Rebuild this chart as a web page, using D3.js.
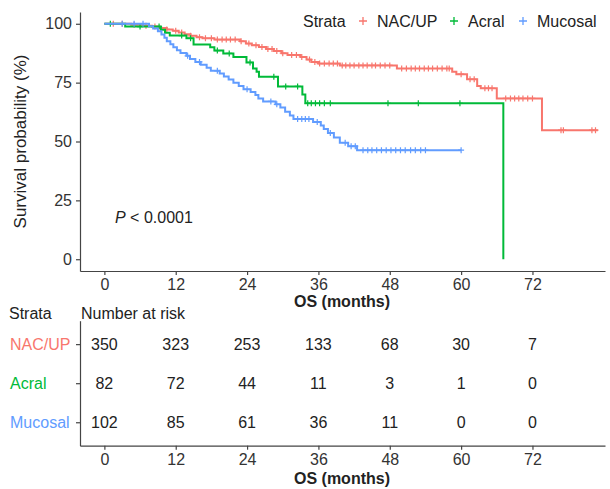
<!DOCTYPE html>
<html>
<head>
<meta charset="utf-8">
<script src="https://cdn.jsdelivr.net/npm/d3@7"></script>
<style>
  body { margin: 0; background: #fff; }
  svg { font-family: 'Liberation Sans', Arial, sans-serif; }
</style>
</head>
<body>
<div id="km"></div>
<script>
// Strata and colours
const strata = ['NAC/UP', 'Acral', 'Mucosal'];
const strataColors = ['#F8766D', '#00BA38', '#619CFF'];

// Kaplan-Meier steps: [month, survival %]
const nacSteps = [[0, 100], [4.5, 99.6], [6.5, 99.2], [8, 98.8], [9.3, 98.2], [10.5, 97.6], [11.5, 97.0],
    [12.5, 96.3], [13.5, 95.6], [14.5, 94.9], [15.5, 94.3], [16.5, 93.8], [18.5, 93.3], [22.8, 92.6],
    [23.8, 91.6], [24.8, 90.9], [26, 90.1], [27.2, 89.3], [28.5, 88.4], [29.8, 87.5], [30.8, 86.7],
    [33, 85.9], [34, 84.8], [34.8, 83.8], [36, 83.1], [39.6, 82.3], [49.2, 81.0], [58.5, 79.6],
    [59.2, 78.6], [61, 76.4], [62.7, 73.6], [63.3, 72.6], [66, 68.3], [73.6, 54.8]];
const nacEnd = 83;
const nacCensor = [1.5, 3, 5, 7, 8.5, 10.5, 12, 13, 14.5, 16, 17, 18, 19, 19.8, 20.5, 21.2, 22, 23, 24.3,
    25.5, 26.5, 27.5, 28.2, 29, 30, 31.5, 32.3, 33.2, 34.5, 35.4, 36.2, 37, 37.8, 38.5, 39.2, 40, 40.6,
    41.3, 42, 42.8, 43.5, 44.2, 45, 45.6, 46.4, 47.2, 48, 50, 50.8, 51.6, 52.3, 53, 53.8, 54.5, 55.2,
    56, 56.8, 57.6, 58, 60, 61.5, 62.2, 64, 64.6, 65.2, 67.5, 68.3, 69, 69.7, 70.4, 71.2, 72, 76.8,
    77.2, 82, 82.6];

const acralSteps = [[0, 100], [3.5, 98.8], [9.5, 97.5], [10.2, 96.2], [11, 95.0], [13.8, 93.8], [15, 91.2],
    [17.8, 90.0], [18.5, 88.6], [20, 87.4], [21.7, 85.9], [23.9, 83.6], [25, 81.0], [25.6, 79.6],
    [26, 77.5], [29.2, 73.4], [33.3, 70.0], [33.8, 66.2], [67.1, 0]];
const acralEnd = 67.1;
const acralCensor = [1, 6, 9.2, 13, 14.5, 19, 21, 24.5, 28.5, 30.5, 32.5, 34.2, 34.8, 35.5, 36.2, 37,
    38, 47.7, 52.8, 59.8];

const mucosalSteps = [[0, 100], [7.5, 99], [8.2, 98], [9, 96.8], [9.6, 95.4], [10.1, 94.1], [10.5, 92.6],
    [11.1, 91.3], [11.6, 90], [12.2, 88.8], [12.8, 87.6], [13.8, 86.4], [14.4, 85], [15.3, 83.8],
    [16.2, 82.6], [17.2, 81.3], [17.9, 80], [19.4, 78.9], [20.1, 77.6], [20.9, 76.3], [21.7, 75],
    [22.6, 73.6], [23.4, 72.2], [24.6, 71], [25.4, 69.7], [25.9, 68.3], [26.7, 67], [28.8, 65.8],
    [29.6, 64.4], [30.4, 62.6], [31.2, 61], [31.8, 59.6], [35.1, 58.3], [36.4, 56.8], [36.9, 55.3],
    [37.6, 53.6], [38.6, 51.7], [39.6, 49.5], [41, 48], [42.5, 46.3]];
const mucosalEnd = 60;
const mucosalCensor = [3, 5, 6.5, 14, 16, 19, 24, 28, 29, 32.5, 33.2, 33.8, 34.4, 35.8, 38, 40.5, 41.5,
    42.2, 43.5, 44.3, 45, 45.8, 46.6, 47.4, 48.2, 49, 49.8, 50.6, 51.5, 52.3, 53.2, 54, 60];

// Ticks and risk table
const timeTicks = [0, 12, 24, 36, 48, 60, 72];
const survTicks = [0, 25, 50, 75, 100];
const nacRisk = [350, 323, 253, 133, 68, 30, 7];
const acralRisk = [82, 72, 44, 11, 3, 1, 0];
const mucosalRisk = [102, 85, 61, 36, 11, 0, 0];

const groups = [
    { name: 'NAC/UP', steps: nacSteps, end: nacEnd, censor: nacCensor, risk: nacRisk },
    { name: 'Acral', steps: acralSteps, end: acralEnd, censor: acralCensor, risk: acralRisk },
    { name: 'Mucosal', steps: mucosalSteps, end: mucosalEnd, censor: mucosalCensor, risk: mucosalRisk }
];

const width = 610;
const height = 489;
const textColor = '#222';
const axisColor = '#444';

const svg = d3.select('#km').append('svg')
    .attr('width', width)
    .attr('height', height);

const color = d3.scaleOrdinal().domain(strata).range(strataColors);

// Shared x scale (plot and table)
const xScale = d3.scaleLinear()
    .domain([-4.1, 84.2])
    .range([80, 605]);

const yScale = d3.scaleLinear()
    .domain([-5, 105])
    .range([271, 12]);

// Curves
const line = d3.line()
    .curve(d3.curveStepAfter)
    .x(d => xScale(d[0]))
    .y(d => yScale(d[1]));

const bisect = d3.bisector(d => d[0]).right;
const survAt = (steps, t) => steps[Math.max(0, bisect(steps, t) - 1)][1];

groups.forEach(g => {
    const pts = g.steps.concat([[g.end, g.steps[g.steps.length - 1][1]]]);
    svg.append('path')
        .datum(pts)
        .attr('fill', 'none')
        .attr('stroke', color(g.name))
        .attr('stroke-width', 2)
        .attr('d', line);

    svg.append('g')
        .selectAll('path')
        .data(g.censor)
        .enter().append('path')
        .attr('transform', t => `translate(${xScale(t)},${yScale(survAt(g.steps, t))})`)
        .attr('d', 'M-3,0H3M0,-3V3')
        .attr('stroke', color(g.name))
        .attr('stroke-width', 1.2);
});

// Axes
function styleAxis(sel) {
    sel.select('.domain').attr('stroke', axisColor).attr('stroke-width', 1.2);
    sel.selectAll('.tick line').attr('stroke', axisColor).attr('stroke-width', 1.2);
    sel.selectAll('.tick text')
        .attr('fill', '#333')
        .style('font-size', '16px')
        .style('font-family', "'Liberation Sans', Arial, sans-serif");
}

svg.append('g')
    .attr('transform', 'translate(0, 271)')
    .call(d3.axisBottom(xScale).tickValues(timeTicks).tickSize(4).tickSizeOuter(0).tickPadding(4))
    .call(styleAxis);

svg.append('g')
    .attr('transform', 'translate(80, 0)')
    .call(d3.axisLeft(yScale).tickValues(survTicks).tickSize(4).tickSizeOuter(0).tickPadding(4))
    .call(styleAxis);

// Axis titles
svg.append('text')
    .attr('x', 342)
    .attr('y', 301)
    .attr('dy', '0.35em')
    .style('text-anchor', 'middle')
    .style('font-size', '16px')
    .style('font-weight', 'bold')
    .attr('fill', textColor)
    .text('OS (months)');

svg.append('text')
    .attr('transform', 'rotate(-90)')
    .attr('x', -141.5)
    .attr('y', 20)
    .attr('dy', '0.35em')
    .style('text-anchor', 'middle')
    .style('font-size', '17px')
    .attr('fill', textColor)
    .text('Survival probability (%)');

// P value
const pText = svg.append('text')
    .attr('x', 115)
    .attr('y', 217)
    .attr('dy', '0.35em')
    .style('font-size', '16px')
    .attr('fill', textColor);
pText.append('tspan').style('font-style', 'italic').text('P');
pText.append('tspan').text(' < 0.0001');

// Legend
const legend = svg.append('g')
    .attr('transform', 'translate(303, 21)');

legend.append('text')
    .attr('x', 0)
    .attr('dy', '0.35em')
    .style('font-size', '16px')
    .attr('fill', textColor)
    .text('Strata');

const legendX = [60, 151, 220];
strata.forEach((s, i) => {
    legend.append('path')
        .attr('transform', `translate(${legendX[i]}, 0)`)
        .attr('d', 'M-4,0H4M0,-4V4')
        .attr('stroke', color(s))
        .attr('stroke-width', 1.3);
    legend.append('text')
        .attr('x', legendX[i] + 14)
        .attr('dy', '0.35em')
        .style('font-size', '16px')
        .attr('fill', textColor)
        .text(s);
});

// Risk table
const rowScale = d3.scalePoint()
    .domain(strata)
    .range([320.7, 445.7])
    .padding(0.6);

svg.append('text')
    .attr('x', 9)
    .attr('y', 313)
    .attr('dy', '0.35em')
    .style('font-size', '16px')
    .attr('fill', textColor)
    .text('Strata');

svg.append('text')
    .attr('x', 81)
    .attr('y', 313)
    .attr('dy', '0.35em')
    .style('font-size', '16px')
    .attr('fill', textColor)
    .text('Number at risk');

const rowAxis = svg.append('g')
    .attr('transform', 'translate(80, 0)')
    .call(d3.axisLeft(rowScale).tickSize(4).tickSizeOuter(0).tickPadding(4))
    .call(styleAxis);
// row labels are left aligned in the reference
rowAxis.selectAll('.tick text')
    .attr('fill', d => color(d))
    .attr('x', -70)
    .style('text-anchor', 'start');

svg.append('g')
    .attr('transform', 'translate(0, 445.7)')
    .call(d3.axisBottom(xScale).tickValues(timeTicks).tickSize(4).tickSizeOuter(0).tickPadding(4))
    .call(styleAxis);

groups.forEach(g => {
    svg.append('g')
        .selectAll('text')
        .data(g.risk)
        .enter().append('text')
        .attr('x', (d, i) => xScale(timeTicks[i]))
        .attr('y', rowScale(g.name))
        .attr('dy', '0.35em')
        .style('text-anchor', 'middle')
        .style('font-size', '16px')
        .attr('fill', textColor)
        .text(d => d);
});

svg.append('text')
    .attr('x', 342)
    .attr('y', 478)
    .attr('dy', '0.35em')
    .style('text-anchor', 'middle')
    .style('font-size', '16px')
    .style('font-weight', 'bold')
    .attr('fill', textColor)
    .text('OS (months)');
</script>
</body>
</html>
